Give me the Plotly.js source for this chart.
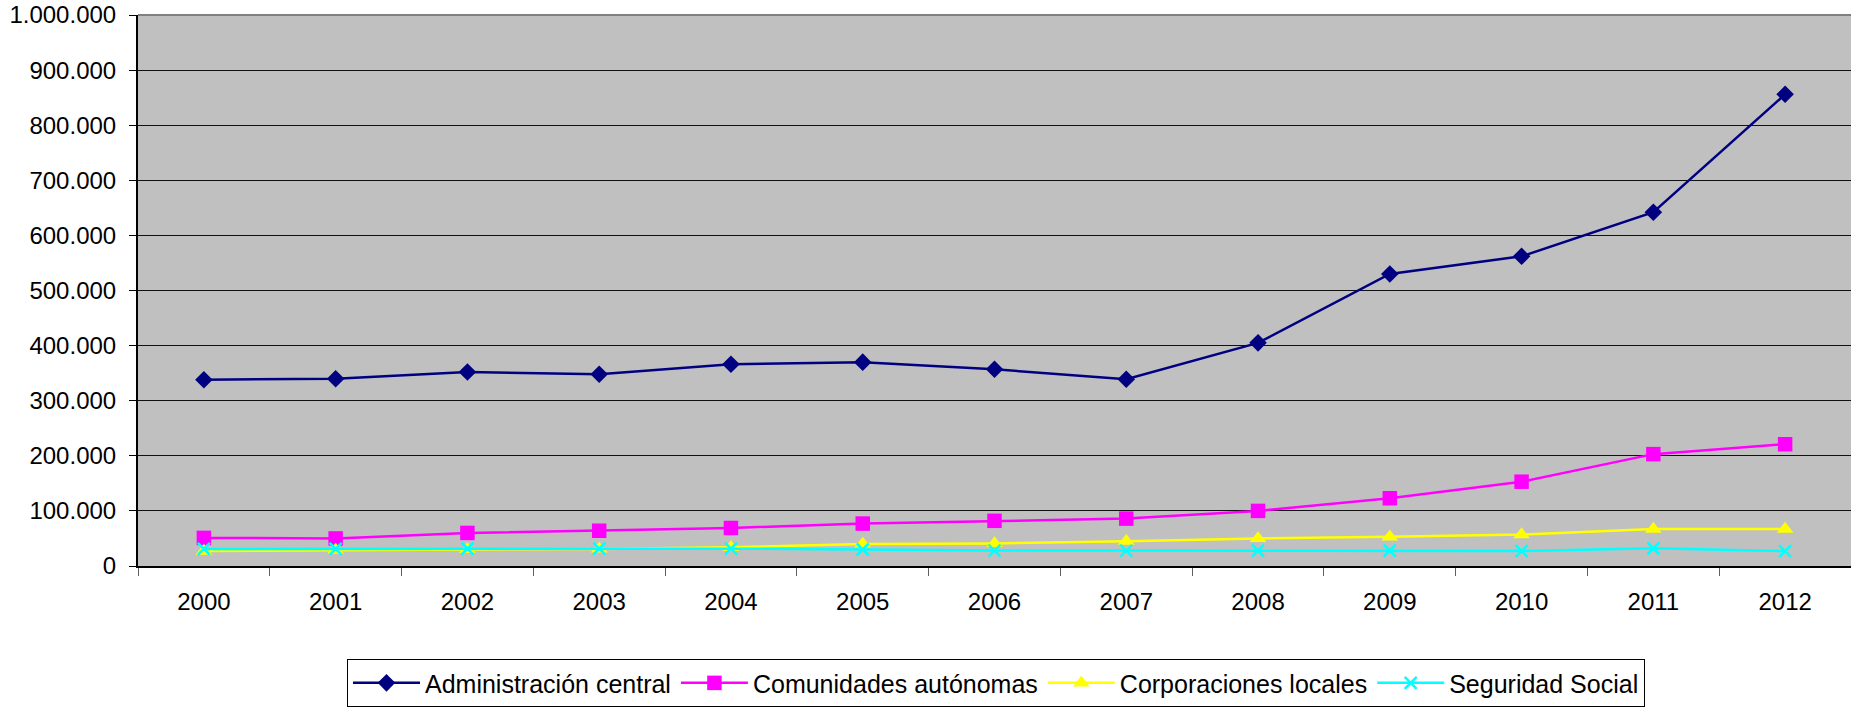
<!DOCTYPE html>
<html>
<head>
<meta charset="utf-8">
<script src="https://cdn.plot.ly/plotly-3.0.1.min.js"></script>
<style>html,body{margin:0;padding:0;background:#fff;}#chart{width:1851px;height:710px;}</style>
</head>
<body>
<div id="chart"></div>
<script>
const years = ['2000','2001','2002','2003','2004','2005','2006','2007','2008','2009','2010','2011','2012'];
const administracionCentral = [338000, 340000, 352000, 348000, 366000, 370000, 357000, 339000, 405000, 530000, 562000, 642000, 856000];
const comunidadesAutonomas = [51000, 50000, 60000, 64000, 69000, 77000, 82000, 86000, 100000, 123000, 153000, 203000, 221000];
const corporacionesLocales = [27000, 29000, 30000, 31000, 34000, 40000, 41000, 45000, 50000, 53000, 57000, 67000, 67000];
const seguridadSocial = [31000, 31000, 31500, 31500, 31500, 30000, 28000, 28000, 28000, 28000, 27000, 32000, 27000];
const seriesNames = ['Administración central', 'Comunidades autónomas', 'Corporaciones locales', 'Seguridad Social'];
const yTickVals = [0, 100000, 200000, 300000, 400000, 500000, 600000, 700000, 800000, 900000, 1000000];

const traces = [
  {x: years, y: administracionCentral, name: seriesNames[0], type: 'scatter', mode: 'lines+markers',
   line: {color: '#000080', width: 2.5}, marker: {symbol: 'diamond', size: 13.5, color: '#000080'}},
  {x: years, y: comunidadesAutonomas, name: seriesNames[1], type: 'scatter', mode: 'lines+markers',
   line: {color: '#FF00FF', width: 2.5}, marker: {symbol: 'square', size: 14.5, color: '#FF00FF'}},
  {x: years, y: corporacionesLocales, name: seriesNames[2], type: 'scatter', mode: 'lines+markers',
   line: {color: '#FFFF00', width: 2.5}, marker: {symbol: 'triangle-up', size: 14.5, color: '#FFFF00'}},
  {x: years, y: seguridadSocial, name: seriesNames[3], type: 'scatter', mode: 'lines+markers',
   line: {color: '#00FFFF', width: 2.5}, marker: {symbol: 'x-thin-open', size: 12, color: '#00FFFF', line: {color: '#00FFFF', width: 2.5}}}
];

const layout = {
  width: 1851, height: 710,
  margin: {l: 138, r: 0, t: 15, b: 144, pad: 0},
  paper_bgcolor: '#ffffff',
  plot_bgcolor: '#C0C0C0',
  separators: ',.',
  font: {family: 'Liberation Sans, Arial, sans-serif', size: 24, color: '#000'},
  showlegend: true,
  xaxis: {
    type: 'category', range: [-0.5, 12.5], fixedrange: true,
    tickson: 'boundaries', ticks: 'outside', ticklen: 8, tickwidth: 1, tickcolor: '#606060',
    showline: true, linecolor: '#000', linewidth: 2, mirror: false,
    showgrid: false, zeroline: false,
    ticklabelstandoff: 13,
    tickfont: {family: 'Liberation Sans, Arial, sans-serif', size: 24, color: '#000'}
  },
  yaxis: {
    range: [0, 1000000], fixedrange: true,
    tickvals: yTickVals, tickformat: ',d',
    ticks: 'outside', ticklen: 7, tickwidth: 1, tickcolor: '#000',
    showline: true, linecolor: '#000', linewidth: 2,
    showgrid: true, gridcolor: '#111111', gridwidth: 1,
    zeroline: false,
    ticklabelstandoff: 8,
    tickfont: {family: 'Liberation Sans, Arial, sans-serif', size: 24, color: '#000'}
  },
  shapes: [
    {type: 'line', xref: 'paper', yref: 'paper', x0: 0, x1: 1, y0: 1, y1: 1, line: {color: '#808080', width: 2}}
  ],
  legend: {
    orientation: 'h', x: 0.122, xanchor: 'left', y: -0.169, yanchor: 'top',
    bgcolor: '#ffffff', bordercolor: '#000', borderwidth: 1,
    font: {family: 'Liberation Sans, Arial, sans-serif', size: 25, color: '#000'},
    traceorder: 'normal', itemwidth: 67
  }
};

Plotly.newPlot('chart', traces, layout, {displayModeBar: false, staticPlot: true});
</script>
</body>
</html>
